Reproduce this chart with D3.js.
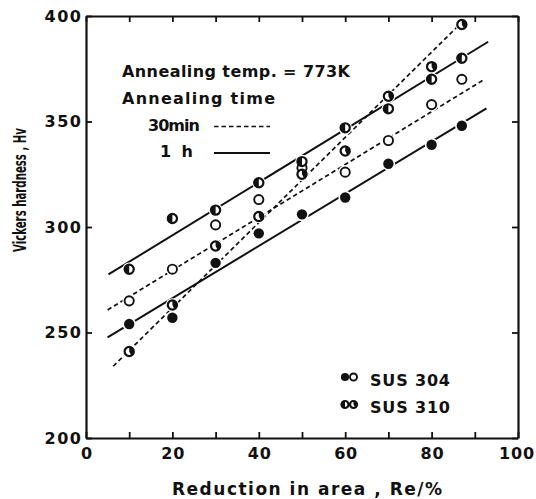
<!DOCTYPE html>
<html>
<head>
<meta charset="utf-8">
<script src="https://cdn.jsdelivr.net/npm/d3@7"></script>
<style>
  html, body { margin: 0; padding: 0; background: #fff; }
  svg { display: block; }
  text { font-family: "DejaVu Sans", sans-serif; fill: #111; }
</style>
</head>
<body>
<svg id="chart" width="536" height="499"></svg>
<script>
// Reduction in area (%) for each specimen
const reduction = [10, 20, 30, 40, 50, 60, 70, 80, 87];

// Vickers hardness Hv after annealing at 773 K
const sus304_30min = [265, 280, 301, 313, 328, 326, 341, 358, 370];
const sus304_1h    = [254, 257, 283, 297, 306, 314, 330, 339, 348];
const sus310_30min = [241, 263, 291, 305, 325, 336, 362, 376, 396];
const sus310_1h    = [280, 304, 308, 321, 331, 347, 356, 370, 380];

// Fitted straight lines: [start reduction, start Hv, end reduction, end Hv]
const fit304_30min = [5.0, 260.7, 92.0, 369.7];
const fit304_1h    = [5.0, 247.7, 92.7, 356.2];
const fit310_30min = [6.3, 234.0, 87.0, 397.0];
const fit310_1h    = [5.2, 277.5, 93.1, 387.8];

// Axis ticks
const xTicks = [0, 10, 20, 30, 40, 50, 60, 70, 80, 90, 100];
const xTickLabels = [0, 20, 40, 60, 80, 100];
const yTicks = [200, 250, 300, 350, 400];

const svg = d3.select("#chart");
const x = d3.scaleLinear().domain([0, 100]).range([86, 518]);
const y = d3.scaleLinear().domain([200, 400]).range([438, 16]);

const ink = "#111";

// ---- axes ----
const fmtX = d => xTickLabels.includes(d) ? String(d) : "";
const gB = svg.append("g").attr("transform", `translate(0,${y(200)})`)
  .call(d3.axisBottom(x).tickValues(xTicks).tickFormat(fmtX)
        .tickSizeInner(-6).tickSizeOuter(0).tickPadding(10));
const gT = svg.append("g").attr("transform", `translate(0,${y(400)})`)
  .call(d3.axisTop(x).tickValues(xTicks).tickFormat("")
        .tickSizeInner(-6).tickSizeOuter(0));
const gL = svg.append("g").attr("transform", `translate(${x(0)},0)`)
  .call(d3.axisLeft(y).tickValues(yTicks).tickFormat(d3.format("d"))
        .tickSizeInner(-6).tickSizeOuter(0).tickPadding(5));
const gR = svg.append("g").attr("transform", `translate(${x(100)},0)`)
  .call(d3.axisRight(y).tickValues(yTicks).tickFormat("")
        .tickSizeInner(-6).tickSizeOuter(0));

[gB, gT, gL, gR].forEach(g => {
  g.select(".domain").attr("stroke", ink).attr("stroke-width", 2.2);
  g.selectAll(".tick line").attr("stroke", ink).attr("stroke-width", 1.8);
  g.selectAll(".tick text")
    .attr("fill", ink)
    .style("font-size", "16px")
    .style("font-weight", "bold")
    .style("letter-spacing", "1.5px")
    .style("font-family", "'DejaVu Sans', sans-serif");
});
gL.selectAll(".tick text").attr("dx", "1.5px");
gB.selectAll(".tick text").style("letter-spacing", "0.8px").attr("dx", "0.4px");
gB.selectAll(".tick text").filter(d => d === 100).attr("dx", "-1.5px");

// ---- axis titles ----
svg.append("text")
  .attr("x", 172).attr("y", 495)
  .attr("textLength", 270).attr("lengthAdjust", "spacing")
  .style("font-size", "17px").style("font-weight", "bold")
  .text("Reduction in area , Re/%");

svg.append("text")
  .attr("transform", "translate(26,252) rotate(-90)")
  .attr("x", 0).attr("y", 0)
  .attr("textLength", 124).attr("lengthAdjust", "spacingAndGlyphs")
  .style("font-size", "17.5px").style("font-weight", "bold")
  .text("Vickers hardness , Hv");

// ---- fitted lines ----
const dash30 = "4.5,3";
const fits = [
  { f: fit304_30min, dash: dash30 },
  { f: fit310_30min, dash: dash30 },
  { f: fit304_1h, dash: null },
  { f: fit310_1h, dash: null }
];
svg.append("g").selectAll("line").data(fits).join("line")
  .attr("x1", d => x(d.f[0])).attr("y1", d => y(d.f[1]))
  .attr("x2", d => x(d.f[2])).attr("y2", d => y(d.f[3]))
  .attr("stroke", ink).attr("stroke-width", d => d.dash ? 1.7 : 2)
  .attr("stroke-dasharray", d => d.dash);

// ---- markers ----
const series = [
  { vals: sus304_30min, kind: "open" },
  { vals: sus304_1h, kind: "filled" },
  { vals: sus310_30min, kind: "halfR" },
  { vals: sus310_1h, kind: "halfL" }
];
const pts = series.flatMap(s => s.vals.map((v, i) => ({ x: reduction[i], y: v, kind: s.kind })));

function drawMarker(g, kind, r) {
  if (kind === "filled") {
    g.append("circle").attr("r", r + 0.6).attr("fill", ink);
    return;
  }
  g.append("circle").attr("r", r).attr("fill", "#fff")
    .attr("stroke", ink).attr("stroke-width", kind === "open" ? 1.9 : 2.2);
  if (kind === "halfL" || kind === "halfR") {
    const arc = d3.arc().innerRadius(0).outerRadius(r);
    const a = kind === "halfL" ? [Math.PI, 2 * Math.PI] : [0, Math.PI * 0.85];
    g.append("path")
      .attr("d", arc({ startAngle: a[0], endAngle: a[1] }))
      .attr("fill", ink);
  }
}

// white halos break the lines around each marker
const mg = svg.append("g");
mg.selectAll("circle.halo").data(pts).join("circle")
  .attr("class", "halo")
  .attr("cx", d => x(d.x)).attr("cy", d => y(d.y))
  .attr("r", 6.8).attr("fill", "#fff");
mg.selectAll("g.pt").data(pts).join("g")
  .attr("class", "pt")
  .attr("transform", d => `translate(${x(d.x)},${y(d.y)})`)
  .each(function (d) { drawMarker(d3.select(this), d.kind, 4.6); });

// ---- annotation: annealing conditions ----
const note = svg.append("g").style("font-size", "16px").style("font-weight", "bold");
note.append("text").attr("x", 122).attr("y", 77)
  .attr("textLength", 228).attr("lengthAdjust", "spacing")
  .text("Annealing temp. = 773K");
note.append("text").attr("x", 122).attr("y", 104)
  .attr("textLength", 153).attr("lengthAdjust", "spacing")
  .text("Annealing time");
note.append("text").attr("x", 148).attr("y", 131)
  .attr("textLength", 52).attr("lengthAdjust", "spacing")
  .text("30min");
note.append("text").attr("x", 160).attr("y", 157)
  .attr("textLength", 33).attr("lengthAdjust", "spacing")
  .text("1  h");
svg.append("line").attr("x1", 214).attr("x2", 270).attr("y1", 126.5).attr("y2", 126.5)
  .attr("stroke", ink).attr("stroke-width", 1.7).attr("stroke-dasharray", dash30);
svg.append("line").attr("x1", 214).attr("x2", 270).attr("y1", 153).attr("y2", 153)
  .attr("stroke", ink).attr("stroke-width", 2);

// ---- material key ----
const key = [
  { label: "SUS 304", kinds: ["filled", "open"], yy: 377 },
  { label: "SUS 310", kinds: ["halfL", "halfR"], yy: 404.5 }
];
key.forEach(k => {
  k.kinds.forEach((kind, i) => {
    const g = svg.append("g").attr("transform", `translate(${345 + i * 8.5},${k.yy})`);
    drawMarker(g, kind, 3.5);
  });
  svg.append("text").attr("x", 370).attr("y", k.yy + 8.5)
    .attr("textLength", 80).attr("lengthAdjust", "spacing")
    .style("font-size", "16px").style("font-weight", "bold")
    .text(k.label);
});
</script>
</body>
</html>
